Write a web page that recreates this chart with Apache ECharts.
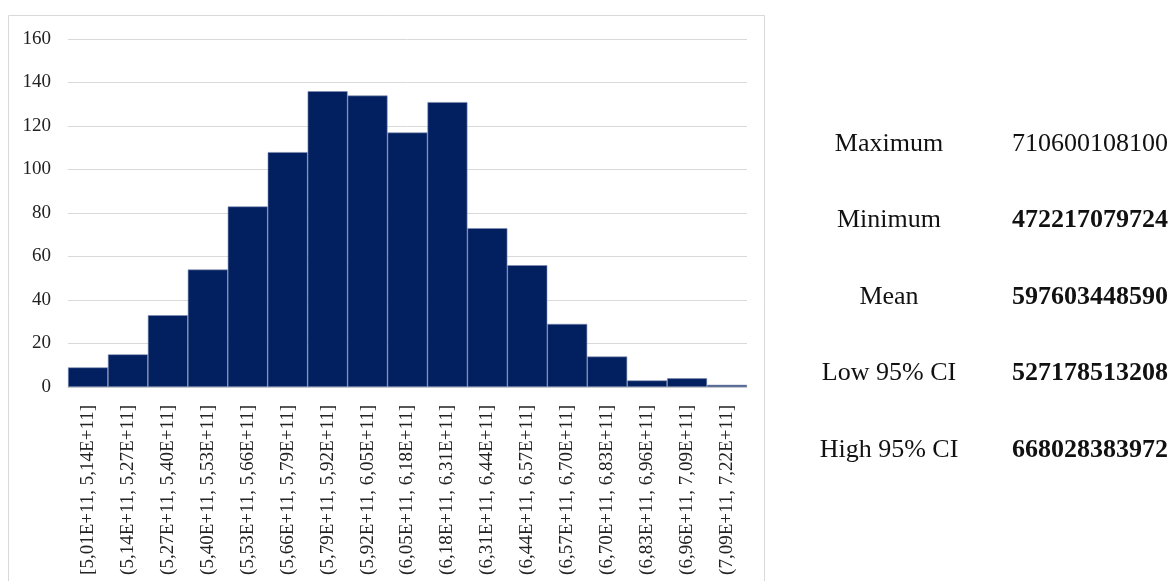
<!DOCTYPE html>
<html>
<head>
<meta charset="utf-8">
<script src="https://cdn.jsdelivr.net/npm/echarts@6/dist/echarts.min.js"></script>
<style>
  html, body { margin: 0; padding: 0; background: #ffffff; }
  #chart { width: 1172px; height: 581px; }
</style>
</head>
<body>
<div id="chart"></div>
<script>
// Histogram bins (interval labels) and frequency counts
const binLabels = [
  '[5,01E+11, 5,14E+11]', '(5,14E+11, 5,27E+11]', '(5,27E+11, 5,40E+11]',
  '(5,40E+11, 5,53E+11]', '(5,53E+11, 5,66E+11]', '(5,66E+11, 5,79E+11]',
  '(5,79E+11, 5,92E+11]', '(5,92E+11, 6,05E+11]', '(6,05E+11, 6,18E+11]',
  '(6,18E+11, 6,31E+11]', '(6,31E+11, 6,44E+11]', '(6,44E+11, 6,57E+11]',
  '(6,57E+11, 6,70E+11]', '(6,70E+11, 6,83E+11]', '(6,83E+11, 6,96E+11]',
  '(6,96E+11, 7,09E+11]', '(7,09E+11, 7,22E+11]'
];
const frequencies = [9, 15, 33, 54, 83, 108, 136, 134, 117, 131, 73, 56, 29, 14, 3, 4, 1];

// Summary statistics shown beside the histogram
const statNames = ['Maximum', 'Minimum', 'Mean', 'Low 95% CI', 'High 95% CI'];
const statValues = ['710600108100', '472217079724', '597603448590', '527178513208', '668028383972'];
const statBold = [false, true, true, true, true];

const serif = '"Liberation Serif", "DejaVu Serif", serif';
const chart = echarts.init(document.getElementById('chart'), null, { renderer: 'canvas' });

const statGraphics = [];
const rowTop = 144, rowStep = 76.5;
statNames.forEach((name, i) => {
  statGraphics.push({
    type: 'text', x: 889, y: rowTop + i * rowStep,
    style: { text: name, font: '26px ' + serif, fill: '#111', align: 'center', verticalAlign: 'middle' }
  });
  statGraphics.push({
    type: 'text', x: 1168, y: rowTop + i * rowStep,
    style: {
      text: statValues[i], font: (statBold[i] ? 'bold ' : '') + '26px ' + serif,
      fill: '#111', align: 'right', verticalAlign: 'middle'
    }
  });
});

chart.setOption({
  animation: false,
  backgroundColor: '#ffffff',
  grid: { left: 68, right: 425, top: 39, bottom: 194, containLabel: false },
  xAxis: {
    type: 'category',
    data: binLabels,
    boundaryGap: true,
    axisLine: { show: true, lineStyle: { color: '#d0d0d0', width: 1 } },
    axisTick: { show: false },
    axisLabel: {
      interval: 0, rotate: 90, margin: 18,
      fontFamily: serif, fontSize: 19, color: '#222'
    }
  },
  yAxis: {
    type: 'value',
    min: 0, max: 160, interval: 20,
    axisLine: { show: false },
    axisTick: { show: false },
    splitLine: { show: true, lineStyle: { color: '#d9d9d9', width: 1 } },
    axisLabel: { fontFamily: serif, fontSize: 19, color: '#222', margin: 17, padding: [3, 0, 0, 0] }
  },
  series: [{
    type: 'bar',
    data: frequencies,
    barCategoryGap: '0%',
    itemStyle: { color: '#022060', borderColor: '#7e8db0', borderWidth: 0.6 }
  }],
  graphic: [
    {
      type: 'rect', z: -10, silent: true,
      shape: { x: 8.5, y: 15.5, width: 756, height: 580 },
      style: { fill: 'none', stroke: '#d9d9d9', lineWidth: 1 }
    },
    ...statGraphics
  ]
});
</script>
</body>
</html>
